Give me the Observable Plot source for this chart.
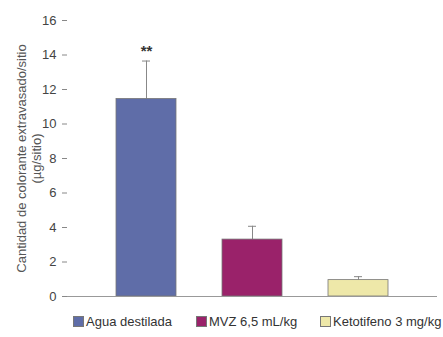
<!DOCTYPE html>
<html><head><meta charset="utf-8">
<script src="https://cdn.jsdelivr.net/npm/d3@7"></script>
<script src="https://cdn.jsdelivr.net/npm/@observablehq/plot@0.6"></script>
<style>
body{margin:0;background:#fff;font-family:"Liberation Sans",Arial,sans-serif;}
#legend{font-size:13px;color:#333;margin-top:9px;}
.item{position:absolute;display:flex;align-items:center;white-space:nowrap;}
.sw{width:11px;height:11px;border:1px solid #777;box-sizing:border-box;margin-right:2px;}
</style></head>
<body><div id="chart"></div><div id="legend"></div>
<script>
const groups = ["Agua destilada", "MVZ 6,5 mL/kg", "Ketotifeno 3 mg/kg"];
const means = [11.45, 3.3, 0.95];
const errors = [2.2, 0.77, 0.2];
const marks = ["**", "", ""];
const colors = ["#5f6da8", "#9a226a", "#eee8a9"];
const yTicks = [0, 2, 4, 6, 8, 10, 12, 14, 16];

const data = groups.map((g, i) => ({g, m: means[i], e: means[i] + errors[i], s: marks[i]}));

const plot = Plot.plot({
  width: 443, height: 305,
  marginLeft: 67, marginRight: 6, marginTop: 20, marginBottom: 9,
  style: {fontFamily: "Liberation Sans, Arial, sans-serif", fontSize: "12px", color: "#444"},
  x: {domain: groups, paddingInner: 0.43, paddingOuter: 0.444, axis: null},
  y: {domain: [0, 16], ticks: yTicks, label: null},
  color: {domain: groups, range: colors},
  marks: [
    Plot.ruleX(data, {x: "g", y1: "m", y2: "e", stroke: "#888", strokeWidth: 1}),
    Plot.tickY(data, {x: "g", y: "e", stroke: "#888", insetLeft: 26, insetRight: 26}),
    Plot.barY(data, {x: "g", y: "m", fill: "g", stroke: "#777", strokeWidth: 0.8}),
    Plot.text(data, {x: "g", y: "e", text: "s", dy: -10, fontSize: 15, fill: "#333", fontWeight: "bold"}),
    Plot.axisY({ticks: yTicks, tickSize: 5, tickPadding: 6, stroke: "#888", fontSize: 13, fill: "#444", label: null}),
    Plot.ruleX([0], {stroke: "#999"}),
    Plot.ruleY([0], {stroke: "#999"}),
    Plot.text(["Cantidad de colorante extravasado/sitio\n(µg/sitio)"], {
      frameAnchor: "left", textAnchor: "middle", dx: -39, rotate: -90, fontSize: 13, fill: "#555", lineHeight: 1.15
    })
  ]
});
document.getElementById("chart").appendChild(plot);

const leg = document.getElementById("legend");
const lx = [73, 196, 320];
leg.style.position = "relative";
leg.style.height = "20px";
groups.forEach((g, i) => {
  const d = document.createElement("div");
  d.className = "item";
  d.style.left = lx[i] + "px";
  d.innerHTML = `<span class="sw" style="background:${colors[i]}"></span><span>${g}</span>`;
  leg.appendChild(d);
});
</script></body></html>
